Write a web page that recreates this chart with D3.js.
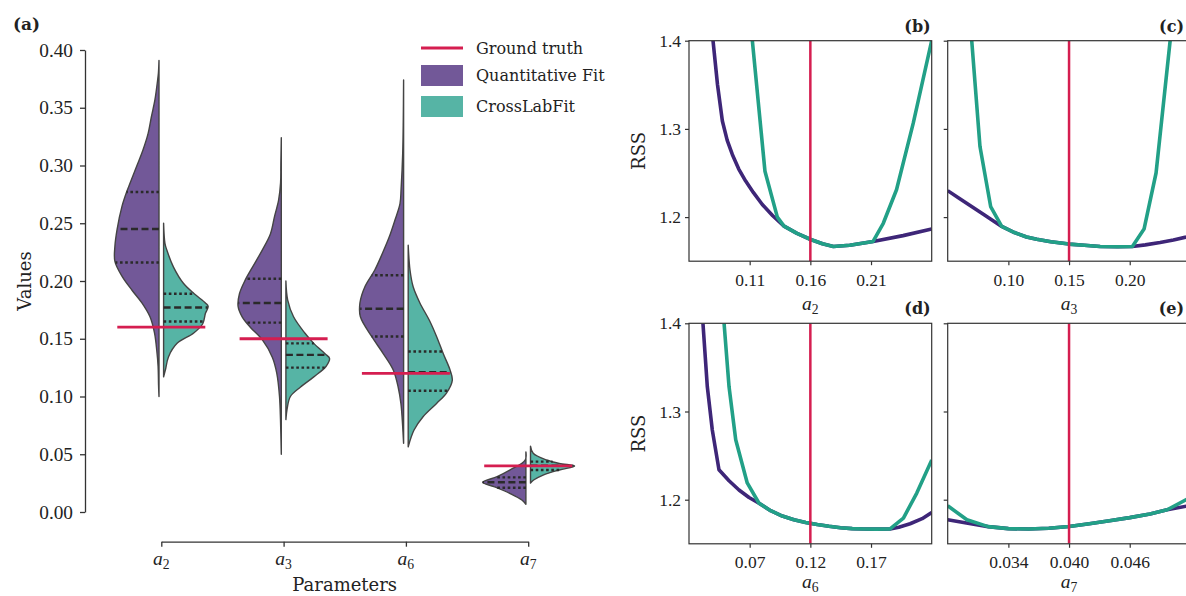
<!DOCTYPE html>
<html>
<head>
<meta charset="utf-8">
<script src="https://cdn.jsdelivr.net/npm/d3@7"></script>
<style>
  body { margin: 0; background: #fff; }
  svg text { fill: #222; }
</style>
</head>
<body>
<svg id="fig" width="1186" height="596"></svg>
<script>
// ---------- data: violin panel (a) ----------
const params = ["2", "3", "6", "7"];              // subscripts of a_i
const groundTruth = [0.16, 0.15, 0.12, 0.04];
const valueTicks = [0, 0.05, 0.10, 0.15, 0.20, 0.25, 0.30, 0.35, 0.40];

// density profiles: [value, relative half-width]
const quantDensity = [
  [[0.391,0],[0.38,0.013],[0.371,0.04],[0.357,0.09],[0.342,0.17],[0.328,0.24],[0.313,0.36],[0.30,0.49],[0.285,0.64],[0.277,0.72],[0.265,0.82],[0.245,0.93],[0.23,0.98],[0.217,0.98],[0.204,0.82],[0.192,0.60],[0.181,0.38],[0.169,0.20],[0.155,0.10],[0.14,0.05],[0.126,0.02],[0.11,0.01],[0.10,0]],
  [[0.324,0],[0.30,0.01],[0.285,0.016],[0.27,0.06],[0.256,0.15],[0.241,0.24],[0.227,0.42],[0.212,0.64],[0.201,0.80],[0.189,0.93],[0.178,0.96],[0.169,0.87],[0.16,0.69],[0.149,0.42],[0.134,0.20],[0.12,0.10],[0.10,0.04],[0.08,0.018],[0.05,0]],
  [[0.374,0],[0.34,0.007],[0.3105,0.02],[0.28,0.055],[0.267,0.08],[0.253,0.19],[0.238,0.32],[0.224,0.47],[0.2095,0.64],[0.195,0.86],[0.181,0.97],[0.169,0.96],[0.152,0.71],[0.137,0.45],[0.123,0.23],[0.108,0.12],[0.094,0.06],[0.08,0.03],[0.0595,0]],
  [[0.052,0],[0.045,0.016],[0.0364,0.35],[0.0306,0.64],[0.0257,0.96],[0.022,0.71],[0.016,0.35],[0.0104,0.09],[0.0067,0]]
];
const crossDensity = [
  [[0.25,0],[0.2326,0.03],[0.227,0.07],[0.212,0.22],[0.198,0.44],[0.189,0.68],[0.181,0.93],[0.178,0.99],[0.172,0.93],[0.163,0.87],[0.155,0.67],[0.146,0.30],[0.1345,0.11],[0.123,0.04],[0.117,0]],
  [[0.20,0],[0.1835,0.04],[0.169,0.17],[0.155,0.42],[0.146,0.62],[0.137,0.87],[0.133,0.97],[0.126,0.89],[0.117,0.62],[0.108,0.32],[0.10,0.10],[0.09,0.03],[0.08,0]],
  [[0.231,0],[0.2095,0.04],[0.195,0.11],[0.181,0.26],[0.166,0.47],[0.152,0.63],[0.137,0.78],[0.123,0.93],[0.114,0.98],[0.103,0.85],[0.094,0.63],[0.0825,0.33],[0.071,0.13],[0.0565,0]],
  [[0.057,0],[0.0508,0.06],[0.045,0.36],[0.042,0.64],[0.0398,0.98],[0.0364,0.64],[0.032,0.28],[0.0277,0.07],[0.025,0]]
];
// quartiles [Q1, median, Q3]
const quantQuartiles = [[0.216,0.245,0.277],[0.164,0.181,0.202],[0.152,0.176,0.205],[0.021,0.0257,0.030]];
const crossQuartiles = [[0.165,0.177,0.189],[0.125,0.136,0.146],[0.105,0.121,0.139],[0.0364,0.040,0.0436]];

// ---------- data: RSS profiles (b)-(e) ----------
const rssTicks = [1.2, 1.3, 1.4];
const quantRssA2 = [[0.0798,1.400],[0.0835,1.350],[0.0875,1.309],[0.0915,1.287],[0.0957,1.271],[0.101,1.2545],[0.1067,1.2408],[0.113,1.228],[0.1204,1.2143],[0.129,1.2015],[0.1383,1.1898],[0.149,1.1815],[0.1603,1.1746],[0.170,1.1698],[0.179,1.1667],[0.1925,1.168],[0.2117,1.1724],[0.2364,1.179],[0.26,1.1864]];
const crossRssA2 = [[0.1122,1.400],[0.1226,1.252],[0.1328,1.200],[0.1383,1.1898],[0.149,1.1815],[0.1603,1.1746],[0.170,1.1698],[0.179,1.1667],[0.1925,1.168],[0.2117,1.1724],[0.2201,1.193],[0.231,1.231],[0.2448,1.3065],[0.26,1.400]];
const quantRssA3 = [[0.05,1.230],[0.06,1.2209],[0.07,1.2118],[0.08,1.2027],[0.0945,1.1894],[0.105,1.1825],[0.115,1.1775],[0.1234,1.1748],[0.135,1.172],[0.15,1.1694],[0.1625,1.168],[0.1756,1.1667],[0.19,1.1664],[0.2022,1.1667],[0.2128,1.1685],[0.225,1.1712],[0.236,1.174],[0.2465,1.1774],[0.25,1.1787]];
const crossRssA3 = [[0.0698,1.400],[0.0766,1.28],[0.0854,1.212],[0.0945,1.1894],[0.105,1.1825],[0.115,1.1775],[0.1234,1.1748],[0.135,1.172],[0.15,1.1694],[0.1625,1.168],[0.1756,1.1667],[0.19,1.1664],[0.2022,1.1667],[0.2118,1.1864],[0.2217,1.25],[0.2333,1.400]];
const quantRssA6 = [[0.0315,1.400],[0.0351,1.328],[0.0392,1.279],[0.0447,1.234],[0.053,1.2215],[0.0612,1.211],[0.0695,1.2025],[0.0777,1.196],[0.0873,1.1875],[0.0969,1.1815],[0.1065,1.1772],[0.1161,1.1742],[0.1257,1.1718],[0.1353,1.1698],[0.1449,1.1682],[0.1545,1.1672],[0.1641,1.1667],[0.1737,1.1666],[0.1857,1.1668],[0.1929,1.1688],[0.2022,1.1727],[0.2121,1.1785],[0.22,1.1855]];
const crossRssA6 = [[0.0489,1.400],[0.053,1.328],[0.0585,1.268],[0.068,1.219],[0.0777,1.196],[0.0873,1.1875],[0.0969,1.1815],[0.1065,1.1772],[0.1161,1.1742],[0.1257,1.1718],[0.1353,1.1698],[0.1449,1.1682],[0.1545,1.1672],[0.1641,1.1667],[0.1737,1.1666],[0.1857,1.1668],[0.1967,1.1792],[0.2077,1.2075],[0.2195,1.2433],[0.22,1.245]];
const quantRssA7 = [[0.028,1.1772],[0.030,1.1733],[0.032,1.1695],[0.034,1.1672],[0.036,1.1667],[0.038,1.1677],[0.040,1.1697],[0.042,1.1727],[0.044,1.1762],[0.046,1.1797],[0.048,1.1838],[0.0497,1.1886],[0.052,1.1935]];
const crossRssA7 = [[0.028,1.1931],[0.0299,1.1772],[0.032,1.1695],[0.034,1.1672],[0.036,1.1667],[0.038,1.1677],[0.040,1.1697],[0.042,1.1727],[0.044,1.1762],[0.046,1.1797],[0.048,1.1838],[0.0497,1.1886],[0.052,1.2025]];

// ---------- styling ----------
const C = {
  quantFill: "#725898", crossFill: "#56b4a5",
  quantLine: "#3e2678", crossLine: "#22a087",
  truth: "#d51e50", edge: "#444", axis: "#333", inner: "#2a2a2a"
};
const SERIF = "'DejaVu Serif', serif";
const NUM = "'Liberation Serif', serif";
const FIG_W = 1186;

const svg = d3.select("#fig");

function mathLabel(g, x, y, sub, size) {
  const t = g.append("text").attr("x", x).attr("y", y)
    .attr("text-anchor", "middle").attr("font-family", NUM).attr("font-size", size);
  t.append("tspan").attr("font-style", "italic").text("a");
  t.append("tspan").attr("font-size", size * 0.7).attr("dy", size * 0.2).text(sub);
  return t;
}

// ================= panel (a): split violins =================
const yV = d3.scaleLinear().domain([0, 0.4]).range([512, 50]);
const xP = d3.scalePoint().domain(params).range([161.3, 528.2]);
const halfW = d3.scaleLinear().domain([0, 1]).range([0, 45]);
const gap = 2.3;

const gA = svg.append("g");

const yAxisA = gA.append("g").attr("transform", "translate(85,0)")
  .call(d3.axisLeft(yV).tickValues(valueTicks).tickFormat(d3.format(".2f")).tickSize(5).tickSizeOuter(0).tickPadding(7));
yAxisA.selectAll("text").attr("font-family", NUM).attr("font-size", 19.3).attr("fill", "#222");
yAxisA.selectAll("line,path").attr("stroke", C.axis).attr("stroke-width", 1.3);

const xAxisA = gA.append("g").attr("transform", "translate(0,541.7)")
  .call(d3.axisBottom(xP).tickSize(5).tickSizeOuter(0).tickFormat(""));
xAxisA.selectAll("line,path").attr("stroke", C.axis).attr("stroke-width", 1.3);
params.forEach(p => mathLabel(gA, xP(p), 565, p, 19.5));

gA.append("text").attr("x", 344.7).attr("y", 591).attr("text-anchor", "middle")
  .attr("font-family", SERIF).attr("font-size", 18).text("Parameters");
gA.append("text").attr("transform", "translate(31,281) rotate(-90)").attr("text-anchor", "middle")
  .attr("font-family", SERIF).attr("font-size", 18).text("Values");

function halfViolin(profile, cx, side, fill) {
  const area = d3.area()
    .y(d => yV(d[0]))
    .x0(cx + side * gap)
    .x1(d => cx + side * (gap + halfW(d[1])))
    .curve(d3.curveCatmullRom.alpha(0.5));
  gA.append("path").datum(profile).attr("d", area)
    .attr("fill", fill).attr("stroke", C.edge).attr("stroke-width", 1.4).attr("stroke-linejoin", "round");
}
function quartileLines(profile, quart, cx, side) {
  const dens = d3.scaleLinear().domain(profile.map(d => d[0])).range(profile.map(d => d[1]));
  quart.forEach((q, i) => {
    const w = halfW(dens(q));
    gA.append("line")
      .attr("x1", cx + side * gap).attr("x2", cx + side * (gap + w))
      .attr("y1", yV(q)).attr("y2", yV(q))
      .attr("stroke", C.inner).attr("stroke-width", 2.4)
      .attr("stroke-dasharray", i === 1 ? "7,3.5" : "2.6,2.6");
  });
}

params.forEach((p, i) => {
  const cx = xP(p);
  halfViolin(quantDensity[i], cx, -1, C.quantFill);
  halfViolin(crossDensity[i], cx, 1, C.crossFill);
  quartileLines(quantDensity[i], quantQuartiles[i], cx, -1);
  quartileLines(crossDensity[i], crossQuartiles[i], cx, 1);
});
params.forEach((p, i) => {
  const cx = xP(p);
  gA.append("line").attr("x1", cx - 44).attr("x2", cx + 44)
    .attr("y1", yV(groundTruth[i])).attr("y2", yV(groundTruth[i]))
    .attr("stroke", C.truth).attr("stroke-width", 2.8);
});

// legend
const leg = gA.append("g");
leg.append("line").attr("x1", 421).attr("x2", 463).attr("y1", 48).attr("y2", 48)
  .attr("stroke", C.truth).attr("stroke-width", 2.8);
leg.append("rect").attr("x", 421).attr("y", 65).attr("width", 42).attr("height", 21).attr("fill", C.quantFill);
leg.append("rect").attr("x", 421).attr("y", 96).attr("width", 42).attr("height", 21).attr("fill", C.crossFill);
[["Ground truth", 54], ["Quantitative Fit", 81], ["CrossLabFit", 112]].forEach(([t, y]) =>
  leg.append("text").attr("x", 476).attr("y", y).attr("font-family", SERIF).attr("font-size", 16).text(t));

gA.append("text").attr("x", 13).attr("y", 30).attr("font-family", SERIF).attr("font-weight", "bold")
  .attr("font-size", 17).text("(a)");

// ================= panels (b)-(e): RSS profiles =================
const panels = [
  { id: "b", left: 689,   top: 40.7,  dom: [0.06, 0.26],   ticks: [0.11, 0.16, 0.21],    fmt: ".2f", truth: 0.16, q: quantRssA2, c: crossRssA2, sub: "2", yLabels: true,  labelOff: 49 },
  { id: "c", left: 947.7, top: 40.7,  dom: [0.05, 0.25],   ticks: [0.10, 0.15, 0.20],    fmt: ".2f", truth: 0.15, q: quantRssA3, c: crossRssA3, sub: "3", yLabels: false, labelOff: 49 },
  { id: "d", left: 689,   top: 323.3, dom: [0.02, 0.22],   ticks: [0.07, 0.12, 0.17],    fmt: ".2f", truth: 0.12, q: quantRssA6, c: crossRssA6, sub: "6", yLabels: true,  labelOff: 44.3 },
  { id: "e", left: 947.7, top: 323.3, dom: [0.028, 0.052], ticks: [0.034, 0.040, 0.046], fmt: ".3f", truth: 0.04, q: quantRssA7, c: crossRssA7, sub: "7", yLabels: false, labelOff: 44.3 }
];
const PW = 242.7, PH = 220.5;

panels.forEach(P => {
  const g = svg.append("g").attr("transform", `translate(${P.left},${P.top})`);
  const x = d3.scaleLinear().domain(P.dom).range([0, PW]);
  const y = d3.scaleLinear().domain([1.15, 1.4]).range([PH, 0]);

  g.append("clipPath").attr("id", "clip-" + P.id)
    .append("rect").attr("width", PW).attr("height", PH);
  const plot = g.append("g").attr("clip-path", `url(#clip-${P.id})`);

  const line = d3.line().x(d => x(d[0])).y(d => y(d[1]));
  plot.append("path").datum(P.q).attr("d", line).attr("fill", "none")
    .attr("stroke", C.quantLine).attr("stroke-width", 3.6).attr("stroke-linejoin", "round");
  plot.append("path").datum(P.c).attr("d", line).attr("fill", "none")
    .attr("stroke", C.crossLine).attr("stroke-width", 3.6).attr("stroke-linejoin", "round");
  plot.append("line").attr("x1", x(P.truth)).attr("x2", x(P.truth)).attr("y1", 0).attr("y2", PH)
    .attr("stroke", C.truth).attr("stroke-width", 2.5);

  const ax = g.append("g").attr("transform", `translate(0,${PH})`)
    .call(d3.axisBottom(x).tickValues(P.ticks).tickFormat(d3.format(P.fmt)).tickSize(4).tickSizeOuter(0));
  ax.select(".domain").remove();
  ax.selectAll("line").attr("stroke", C.axis).attr("stroke-width", 1.2);
  ax.selectAll("text").attr("font-family", NUM).attr("font-size", 17.5).attr("fill", "#222")
    .attr("dy", null).attr("y", 24.5);

  const ay = g.append("g")
    .call(d3.axisLeft(y).tickValues(rssTicks).tickFormat(d3.format(".1f")).tickSize(4).tickSizeOuter(0).tickPadding(4));
  ay.select(".domain").remove();
  ay.selectAll("line").attr("stroke", C.axis).attr("stroke-width", 1.2);
  if (P.yLabels) {
    ay.selectAll("text").attr("font-family", NUM).attr("font-size", 17.5).attr("fill", "#222");
  } else {
    ay.selectAll("text").remove();
  }

  g.append("rect").attr("width", PW).attr("height", PH).attr("fill", "none")
    .attr("stroke", C.axis).attr("stroke-width", 1.2);

  mathLabel(g, PW / 2, PH + P.labelOff, P.sub, 19.5);
  if (P.yLabels) {
    g.append("text").attr("transform", `translate(-44,${PH / 2}) rotate(-90)`).attr("text-anchor", "middle")
      .attr("font-family", SERIF).attr("font-size", 18).text("RSS");
  }
  // panel letter, kept inside the figure edge
  const letterX = Math.min(PW - 1, FIG_W - 2 - P.left);
  g.append("text").attr("x", letterX).attr("y", -9).attr("text-anchor", "end")
    .attr("font-family", SERIF).attr("font-weight", "bold").attr("font-size", 16).text(`(${P.id})`);
});
</script>
</body>
</html>
